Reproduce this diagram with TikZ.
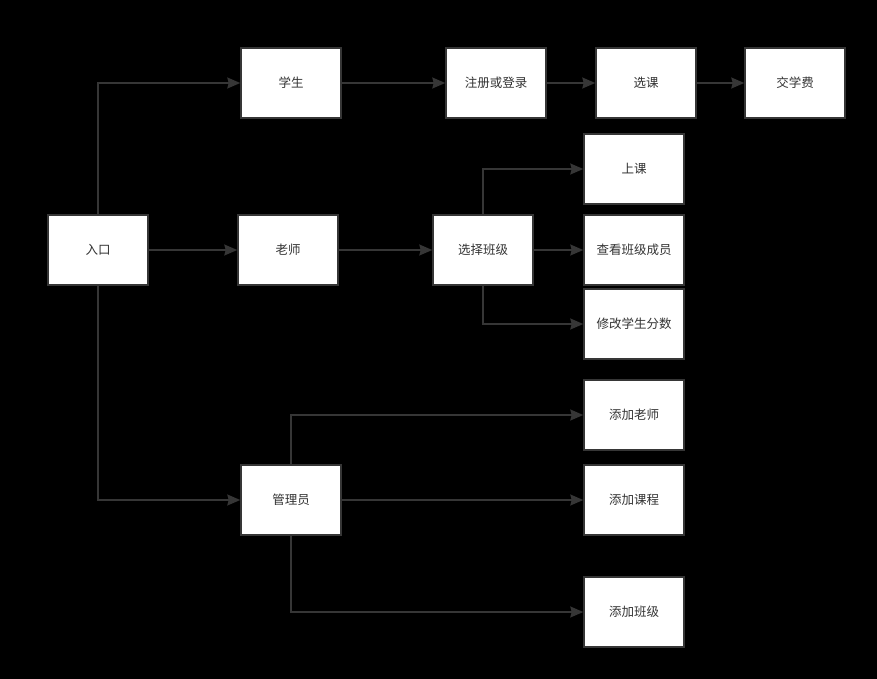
\documentclass[tikz,border=0pt]{standalone}
\usepackage{fontspec}
\setmainfont{Noto Sans CJK SC}
\usepackage{xcolor}
\usetikzlibrary{arrows.meta}
\definecolor{ln}{HTML}{363636}
\definecolor{tx}{HTML}{333333}

\begin{document}
\begin{tikzpicture}[x=1pt,y=-1pt,>={Stealth[length=13pt,width=11pt,inset=1.5pt]},
  bx/.style={rectangle,draw=ln,fill=white,line width=1.5pt,minimum width=100pt,minimum height=70pt,
    text=tx,font=\fontsize{12.5}{14}\selectfont},
  ar/.style={->,draw=ln,line width=1.5pt}]
  \fill[black] (0,0) rectangle (877,679);
  \useasboundingbox (0,0) rectangle (877,679);
  % entry and roles
  \node[bx](ent) at (98,250){\raisebox{-1pt}{入口}};
  \node[bx](stu) at (291,83){\raisebox{-1pt}{学生}};
  \node[bx](tea) at (288,250){\raisebox{-1pt}{老师}};
  \node[bx](adm) at (291,500){\raisebox{-1pt}{管理员}};
  % student
  \node[bx](reg) at (496,83){\raisebox{-1pt}{注册或登录}};
  \node[bx](sel) at (646,83){\raisebox{-1pt}{选课}};
  \node[bx](fee) at (795,83){\raisebox{-1pt}{交学费}};
  % teacher
  \node[bx](cls) at (483,250){\raisebox{-1pt}{选择班级}};
  \node[bx](lec) at (634,169){\raisebox{-1pt}{上课}};
  \node[bx](mem) at (634,250){\raisebox{-1pt}{查看班级成员}};
  \node[bx](scr) at (634,324){\raisebox{-1pt}{修改学生分数}};
  % admin
  \node[bx](adt) at (634,415){\raisebox{-1pt}{添加老师}};
  \node[bx](adc) at (634,500){\raisebox{-1pt}{添加课程}};
  \node[bx](adk) at (634,612){\raisebox{-1pt}{添加班级}};
  % connectors
  \draw[ar] (ent) |- (stu);
  \draw[ar] (ent) -- (tea);
  \draw[ar] (ent) |- (adm);
  \draw[ar] (stu) -- (reg);
  \draw[ar] (reg) -- (sel);
  \draw[ar] (sel) -- (fee);
  \draw[ar] (tea) -- (cls);
  \draw[ar] (cls) |- (lec);
  \draw[ar] (cls) -- (mem);
  \draw[ar] (cls) |- (scr);
  \draw[ar] (adm) |- (adt);
  \draw[ar] (adm) -- (adc);
  \draw[ar] (adm) |- (adk);
\end{tikzpicture}
\end{document}
